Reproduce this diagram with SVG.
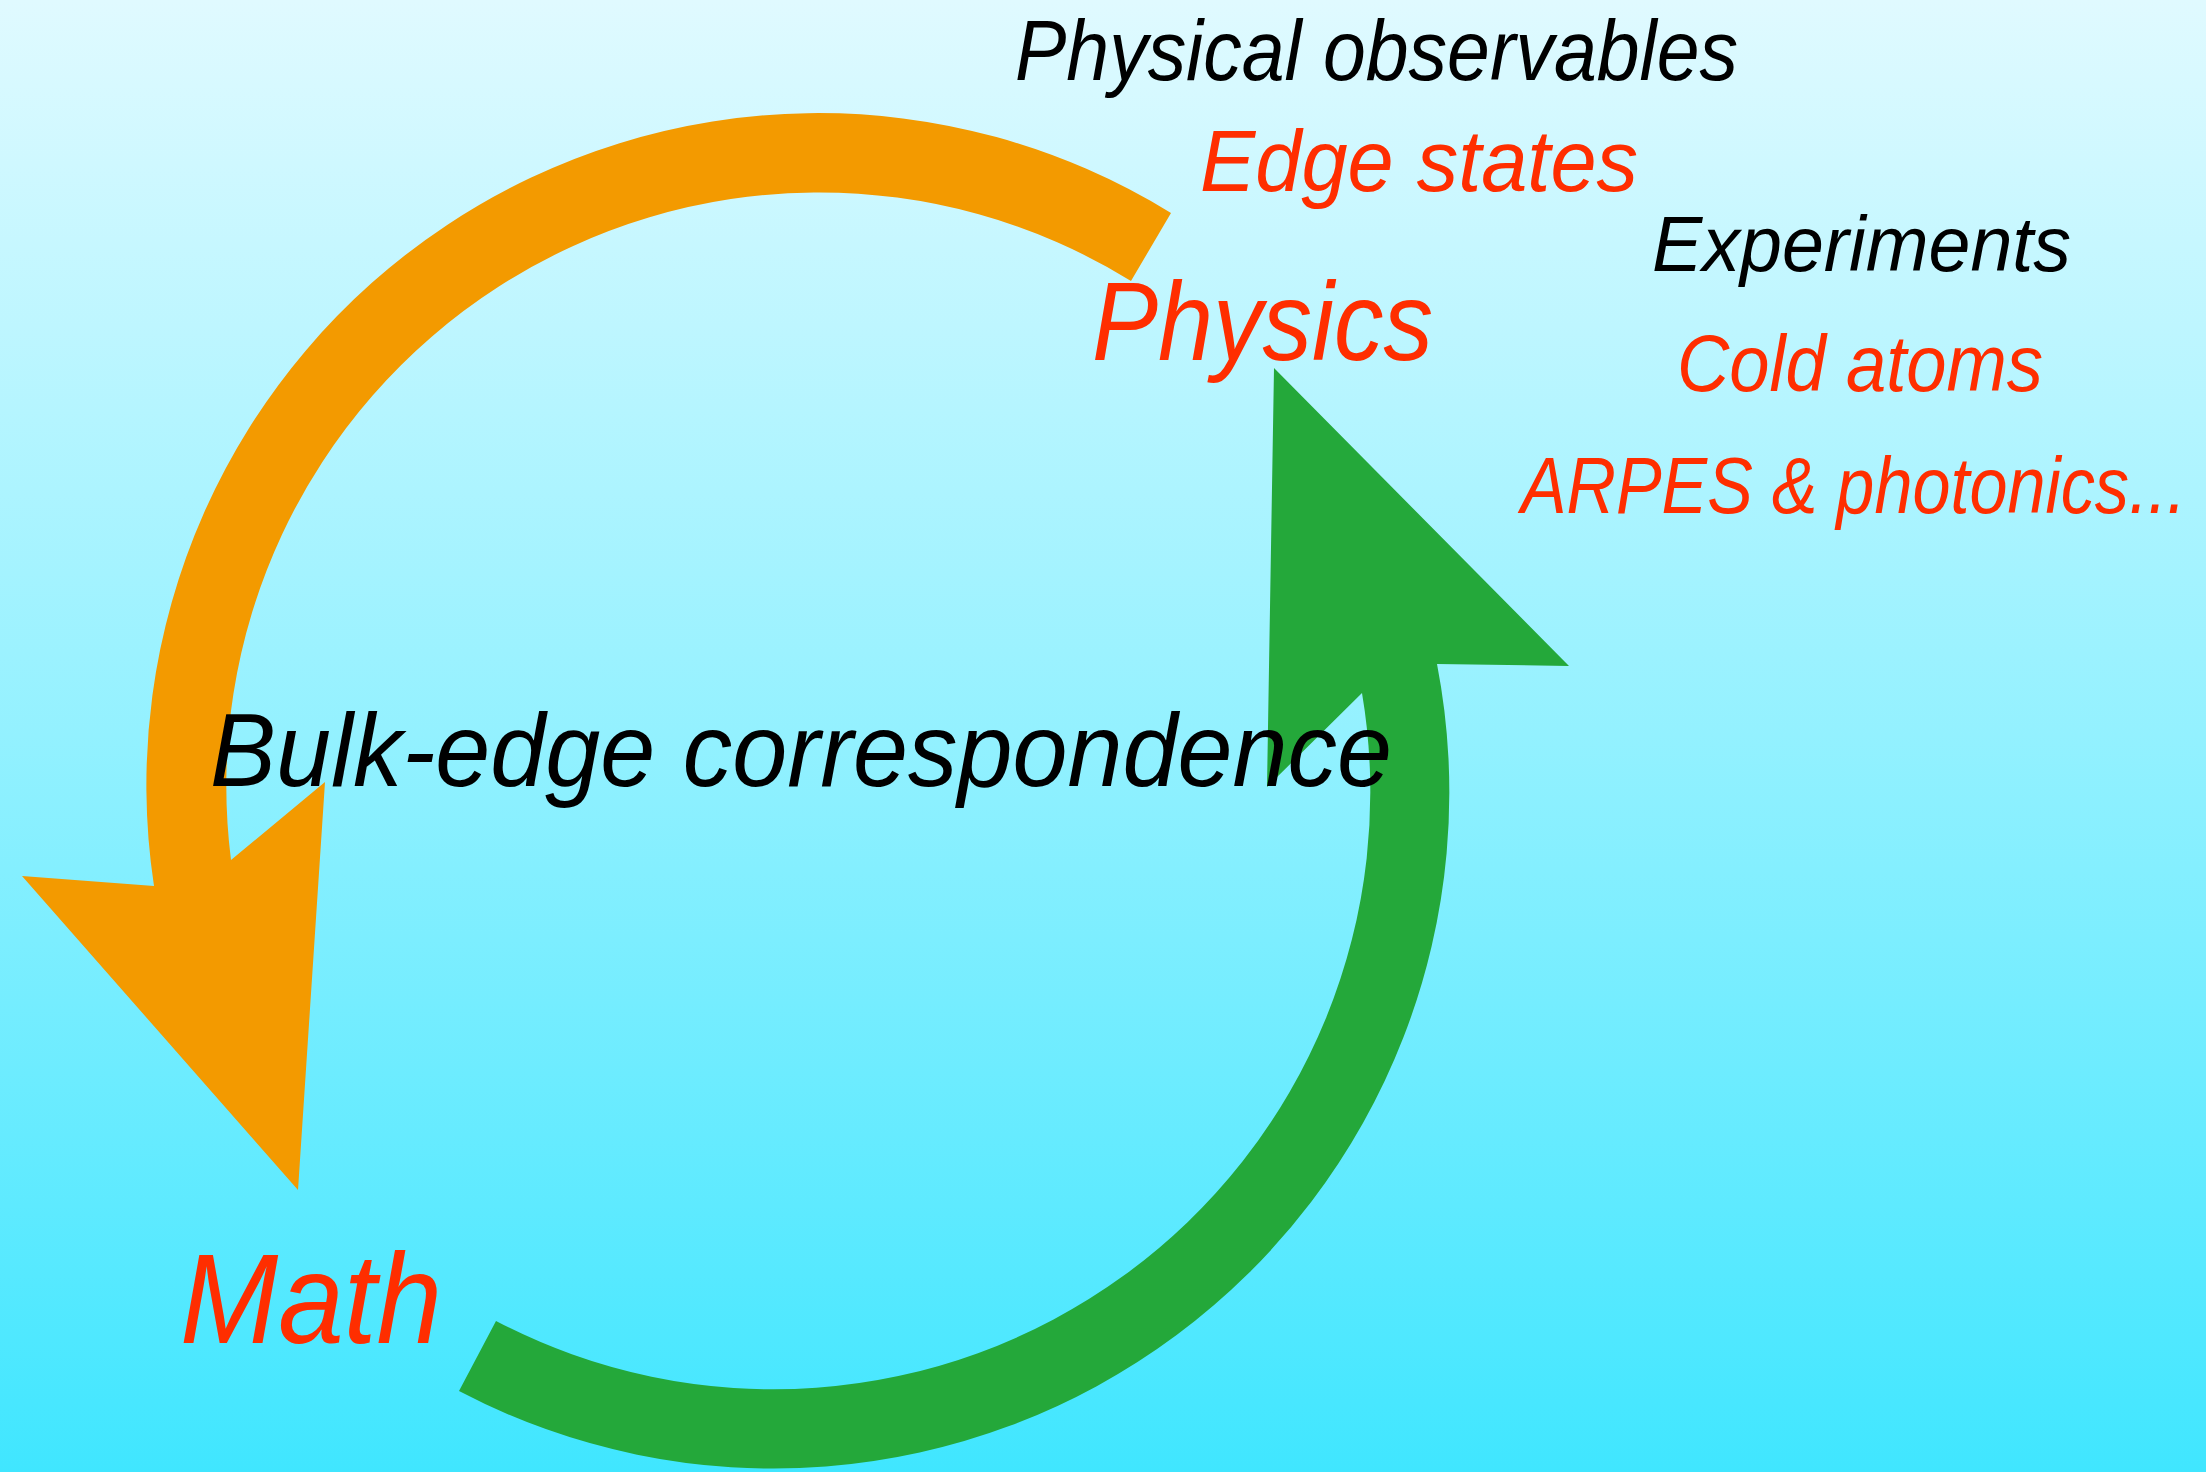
<svg xmlns="http://www.w3.org/2000/svg" width="2206" height="1472" viewBox="0 0 2206 1472">
  <defs>
    <linearGradient id="bg" x1="0" y1="0" x2="0" y2="1">
      <stop offset="0" stop-color="#E0FAFF"/>
      <stop offset="0.5" stop-color="#93F1FF"/>
      <stop offset="1" stop-color="#40E6FF"/>
    </linearGradient>
  </defs>
  <style>
    text { font-family: "Liberation Sans", Arial, sans-serif; font-style: italic; }
    .red { fill: #FF2E00; }
    .blk { fill: #000000; }
    .orange { fill: #F39A00; }
    .green { fill: #24A83A; }
  </style>
  <rect x="0" y="0" width="2206" height="1472" fill="url(#bg)"/>

  <g id="connectors">
    <path id="arrow-physics-to-math" class="orange" d="M 1171 213 A 672 672 0 0 0 154 886 L 22 876 L 298 1190 L 325 782 L 231 860 A 593 593 0 0 1 1131 281 Z"/>
    <path id="arrow-math-to-physics" class="green" d="M 459 1391 A 676 676 0 0 0 1437 664 L 1569 666 L 1274 368 L 1267 787 L 1362 693 A 597 597 0 0 1 496 1321 Z"/>
  </g>

  <g id="node-physics">
    <text class="red" x="1092" y="360" font-size="112" textLength="341" lengthAdjust="spacingAndGlyphs">Physics</text>
  </g>
  <g id="node-math">
    <text class="red" x="180" y="1343" font-size="128" textLength="262" lengthAdjust="spacingAndGlyphs">Math</text>
  </g>
  <g id="label-bulk-edge">
    <text class="blk" x="210" y="786" font-size="103" textLength="1182" lengthAdjust="spacingAndGlyphs">Bulk-edge correspondence</text>
  </g>
  <g id="label-physical-observables">
    <text class="blk" x="1015" y="80" font-size="85" textLength="723" lengthAdjust="spacingAndGlyphs">Physical observables</text>
    <text class="red" x="1200" y="191" font-size="88" textLength="438" lengthAdjust="spacingAndGlyphs">Edge states</text>
  </g>
  <g id="label-experiments">
    <text class="blk" x="1652" y="271" font-size="78" textLength="419" lengthAdjust="spacingAndGlyphs">Experiments</text>
    <text class="red" x="1677" y="391" font-size="79" textLength="366" lengthAdjust="spacingAndGlyphs">Cold atoms</text>
    <text class="red" x="2186" y="513" font-size="79" text-anchor="end" textLength="665" lengthAdjust="spacingAndGlyphs">ARPES &amp; photonics...</text>
  </g>
</svg>
